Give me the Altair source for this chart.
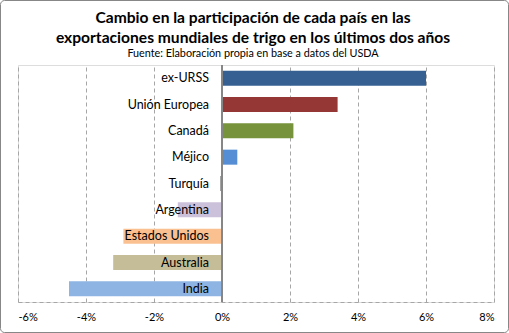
import altair as alt
import pandas as pd

countries = ["ex-URSS", "Unión Europea", "Canadá", "Méjico", "Turquía",
             "Argentina", "Estados Unidos", "Australia", "India"]
values = [6.0, 3.4, 2.1, 0.45, -0.05, -1.3, -2.9, -3.2, -4.5]
colors = ["#376092", "#953735", "#77933C", "#558ED5", "#7F7F7F",
          "#CCC1DA", "#FAC090", "#C4BD97", "#8EB4E3"]
ticks = [-6, -4, -2, 0, 2, 4, 6, 8]

title_lines = ["Cambio en la participación de cada país en las",
               "exportaciones mundiales de trigo en los últimos dos años"]
subtitle = "Fuente: Elaboración propia en base a datos del USDA"

df = pd.DataFrame({"pais": countries, "valor": values, "color": colors})

FONT = "Lato"
W, H = 476, 237

xscale = alt.Scale(domain=[-6, 8], nice=False, zero=False)
yscale = alt.Scale(domain=countries, paddingInner=0.43, paddingOuter=0.215)

base = alt.Chart(df)

bars = base.mark_bar().encode(
    x=alt.X("valor:Q", scale=xscale,
            axis=alt.Axis(values=ticks, labelExpr="datum.value + '%'", title=None,
                          grid=True, gridDash=[4, 3], gridColor="#A6A6A6",
                          domain=True, domainDash=[4, 3], domainColor="#A6A6A6",
                          ticks=False, labelFontSize=11, labelColor="#000000",
                          labelFont=FONT, labelPadding=9)),
    x2=alt.datum(0),
    y=alt.Y("pais:N", scale=yscale, axis=None),
    color=alt.Color("color:N", scale=None, legend=None),
)

zero = base.mark_rule(color="#868686", strokeWidth=1).encode(
    x=alt.datum(0),
)

labels = base.mark_text(align="right", baseline="middle", dx=-13, fontSize=12.5,
                        font=FONT, color="#000000").encode(
    x=alt.datum(0),
    y=alt.Y("pais:N", scale=yscale, axis=None),
    text="pais:N",
)

one = pd.DataFrame({"a": [0]})

border = alt.Chart(one).mark_rect(
    fill="transparent", stroke="#878787", strokeWidth=1, cornerRadius=4
).encode(
    x=alt.value(-17.5), x2=alt.value(W + 14.5),
    y=alt.value(-64.5), y2=alt.value(H + 30.5),
)

t1 = alt.Chart(one).mark_text(text=title_lines[0], font=FONT, fontSize=15.6,
                              fontWeight="bold", color="#000000",
                              align="center", baseline="middle").encode(
    x=alt.value(W / 2 - 3), y=alt.value(-47))
t2 = alt.Chart(one).mark_text(text=title_lines[1], font=FONT, fontSize=15.6,
                              fontWeight="bold", color="#000000",
                              align="center", baseline="middle").encode(
    x=alt.value(W / 2 - 3), y=alt.value(-27))
t3 = alt.Chart(one).mark_text(text=subtitle, font=FONT, fontSize=10.8,
                              color="#000000",
                              align="center", baseline="middle").encode(
    x=alt.value(W / 2 - 3), y=alt.value(-11))

chart = alt.layer(border, bars, zero, labels, t1, t2, t3).properties(
    width=W, height=H,
    autosize=alt.AutoSizeParams(type="none"),
    padding={"left": 18, "top": 65, "right": 15, "bottom": 31},
).configure_view(strokeWidth=0).configure(background="white")

chart.save("out.html", embed_options={"renderer": "svg", "actions": False})
